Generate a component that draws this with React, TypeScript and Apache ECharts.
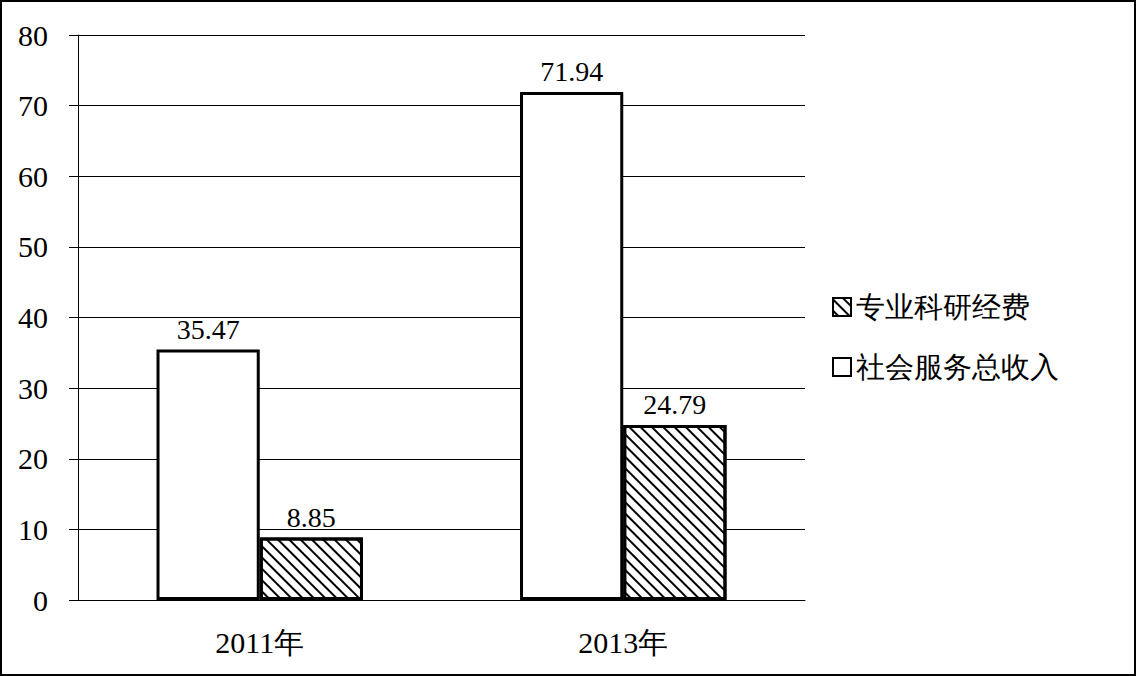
import React, { useEffect, useRef } from "react";
import * as echarts from "echarts";

const categories = ["2011年", "2013年"];
const socialIncome = [35.47, 71.94];
const researchFunds = [8.85, 24.79];
const yTicks = [0, 10, 20, 30, 40, 50, 60, 70, 80];
const legendOrder = ["专业科研经费", "社会服务总收入"];

const FONT = "'Liberation Serif', 'Times New Roman', serif";

export default function App() {
  const ref = useRef<HTMLDivElement>(null);
  useEffect(() => {
    if (!ref.current) return;
    const chart = echarts.init(ref.current, undefined, { renderer: "svg" });
    const hatch = {
      symbol: "rect",
      symbolSize: 1,
      dashArrayX: [1, 0],
      dashArrayY: [1.4, 5.8],
      rotation: Math.PI / 4,
      color: "#000",
      backgroundColor: "#fff",
    };
    const label = { show: true, position: "top", distance: 6, fontSize: 28, fontFamily: FONT, color: "#000" };
    chart.setOption({
      animation: false,
      backgroundColor: "#fff",
      textStyle: { fontFamily: FONT, color: "#000" },
      grid: { left: 78, top: 35, right: 331, bottom: 76, containLabel: false },
      legend: {
        data: legendOrder,
        orient: "vertical",
        left: 827,
        top: 287,
        itemWidth: 18,
        itemHeight: 18,
        itemGap: 30,
        icon: "rect",
        textStyle: { fontSize: 29, fontFamily: FONT, color: "#000", lineHeight: 30 },
      },
      xAxis: {
        type: "category",
        data: categories,
        axisLine: { lineStyle: { color: "#000", width: 1 } },
        axisTick: { length: 7, lineStyle: { color: "#000" } },
        axisLabel: { fontSize: 30, fontFamily: FONT, color: "#000", margin: 27 },
      },
      yAxis: {
        type: "value",
        min: yTicks[0],
        max: yTicks[yTicks.length - 1],
        interval: 10,
        axisLine: { show: true, lineStyle: { color: "#000", width: 1 } },
        axisTick: { show: true, length: 9, lineStyle: { color: "#000" } },
        splitLine: { lineStyle: { color: "#000", width: 1 } },
        axisLabel: { fontSize: 30, fontFamily: FONT, color: "#000", margin: 30 },
      },
      series: [
        {
          name: "社会服务总收入",
          type: "bar",
          data: socialIncome,
          barWidth: "28.4%",
          barGap: "0%",
          itemStyle: { color: "#fff", borderColor: "#000", borderWidth: 3 },
          label,
        },
        {
          name: "专业科研经费",
          type: "bar",
          data: researchFunds,
          barWidth: "28.4%",
          barGap: "0%",
          itemStyle: { color: "#fff", borderColor: "#000", borderWidth: 3, decal: hatch },
          label,
        },
      ],
      graphic: [
        {
          type: "rect",
          shape: { x: 1, y: 1, width: 1134, height: 674 },
          style: { fill: "none", stroke: "#000", lineWidth: 2 },
          silent: true,
        },
      ],
    });
    return () => chart.dispose();
  }, []);
  return <div ref={ref} style={{ position: "fixed", left: 0, top: 0, width: 1136, height: 676 }} />;
}
